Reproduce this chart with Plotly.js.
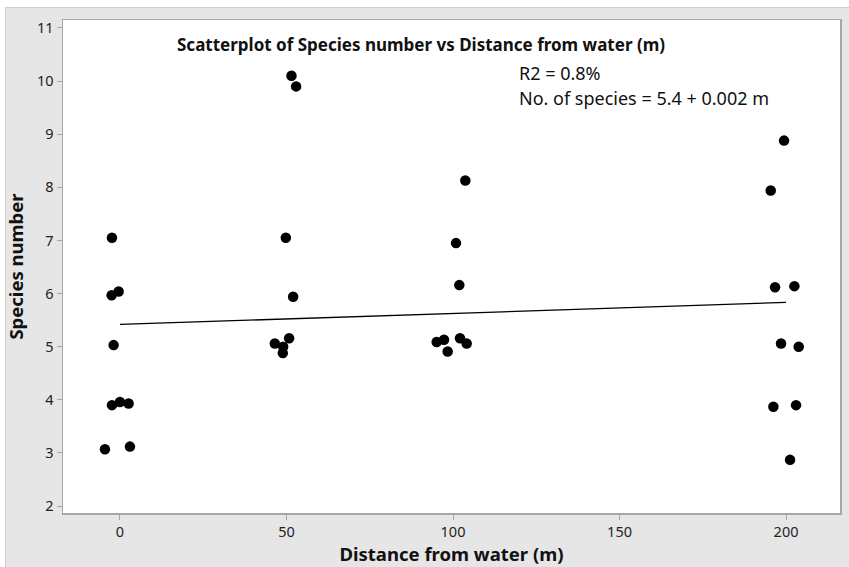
<!DOCTYPE html>
<html>
<head>
<meta charset="utf-8">
<script src="https://cdn.plot.ly/plotly-3.0.1.min.js"></script>
<style>html,body{margin:0;padding:0;background:#fff;}#chart{width:849px;height:567px;}</style>
</head>
<body>
<div id="chart"></div>
<script>
// Distance from water (m), with Minitab-style jitter
const distance = [
  -2.4, -2.5, -0.4, -1.9, -2.4, 0.0, 2.6, -4.5, 3.0,
  51.5, 52.9, 49.8, 52.0, 46.5, 49.0, 48.9, 50.8,
  103.7, 100.9, 101.9, 95.1, 97.3, 98.4, 102.1, 104.1,
  199.4, 195.4, 196.7, 202.5, 198.5, 203.8, 196.2, 203.0, 201.2
];
const species = [
  7.05, 5.97, 6.04, 5.03, 3.90, 3.96, 3.93, 3.07, 3.12,
  10.10, 9.90, 7.05, 5.94, 5.06, 5.00, 4.88, 5.16,
  8.13, 6.95, 6.16, 5.09, 5.13, 4.91, 5.16, 5.06,
  8.88, 7.94, 6.12, 6.14, 5.06, 5.00, 3.87, 3.90, 2.87
];
// Fitted regression line: No. of species = intercept + slope * m
const fitIntercept = 5.42;
const fitSlope = 0.00207;
const fitX = [0, 200];
const fitY = fitX.map(x => fitIntercept + fitSlope * x);

const xTicks = [0, 50, 100, 150, 200];
const yTicks = [2, 3, 4, 5, 6, 7, 8, 9, 10, 11];

const titleText = 'Scatterplot of Species number vs Distance from water (m)';
const statLines = ['R2 = 0.8%', 'No. of species = 5.4 + 0.002 m'];

const W = 849, H = 567;
const mL = 63, mR = 9, mT = 20, mB = 54;
const pw = W - mL - mR, ph = H - mT - mB;
const px = v => (v - mL) / pw;       // pixel -> paper x
const py = v => (H - mB - v) / ph;   // pixel -> paper y

const font = '"Noto Sans", "Open Sans", sans-serif';

const traces = [
  {
    type: 'scatter', mode: 'markers', x: distance, y: species,
    marker: {color: '#000', size: 10.5, line: {width: 0}},
    hoverinfo: 'x+y', showlegend: false
  },
  {
    type: 'scatter', mode: 'lines', x: fitX, y: fitY,
    line: {color: '#000', width: 1.3}, hoverinfo: 'skip', showlegend: false
  }
];

const layout = {
  width: W, height: H,
  margin: {l: mL, r: mR, t: mT, b: mB, pad: 0},
  paper_bgcolor: '#e6e6e6',
  plot_bgcolor: '#ffffff',
  font: {family: font, size: 14, color: '#222'},
  showlegend: false,
  xaxis: {
    range: [-17.1, 216.2], tickvals: xTicks, ticktext: xTicks.map(String),
    showgrid: false, zeroline: false,
    showline: true, linecolor: '#a6a6a6', linewidth: 1.5, mirror: true,
    ticks: 'outside', ticklen: 5, tickcolor: '#a6a6a6', tickwidth: 1,
    tickfont: {family: font, size: 14.5, color: '#222'},
    title: {text: 'Distance from water (m)', font: {family: font, size: 18.5, color: '#111', weight: 'bold'}, standoff: 2}
  },
  yaxis: {
    range: [1.87, 11.15], tickvals: yTicks, ticktext: yTicks.map(String),
    showgrid: false, zeroline: false,
    showline: true, linecolor: '#a6a6a6', linewidth: 1.5, mirror: true,
    ticks: 'outside', ticklen: 5, tickcolor: '#a6a6a6', tickwidth: 1,
    tickfont: {family: font, size: 14.5, color: '#222'},
    title: {text: 'Species number', font: {family: font, size: 18.5, color: '#111', weight: 'bold'}, standoff: 8}
  },
  annotations: [
    {xref: 'paper', yref: 'paper', x: px(421), y: py(45), xanchor: 'center', yanchor: 'middle',
     text: '<b>' + titleText + '</b>', showarrow: false, font: {family: font, size: 17, color: '#111'}},
    {xref: 'paper', yref: 'paper', x: px(517), y: py(73), xanchor: 'left', yanchor: 'middle',
     text: statLines[0], showarrow: false, font: {family: font, size: 18, color: '#111'}},
    {xref: 'paper', yref: 'paper', x: px(517), y: py(98), xanchor: 'left', yanchor: 'middle',
     text: statLines[1], showarrow: false, font: {family: font, size: 18, color: '#111'}}
  ],
  shapes: [
    {type: 'rect', xref: 'paper', yref: 'paper', x0: px(0), x1: px(W), y0: py(7), y1: py(0),
     fillcolor: '#ffffff', line: {width: 0}, layer: 'below'},
    {type: 'rect', xref: 'paper', yref: 'paper', x0: px(0), x1: px(5), y0: py(H), y1: py(0),
     fillcolor: '#ffffff', line: {width: 0}, layer: 'below'},
    {type: 'line', xref: 'paper', yref: 'paper', x0: px(5), x1: px(W), y0: py(7.5), y1: py(7.5),
     line: {color: '#cfcfcf', width: 1}, layer: 'below'},
    {type: 'line', xref: 'paper', yref: 'paper', x0: px(5.5), x1: px(5.5), y0: py(7), y1: py(H),
     line: {color: '#cfcfcf', width: 1}, layer: 'below'}
  ]
};

Plotly.newPlot('chart', traces, layout, {staticPlot: true, displayModeBar: false});
</script>
</body>
</html>
